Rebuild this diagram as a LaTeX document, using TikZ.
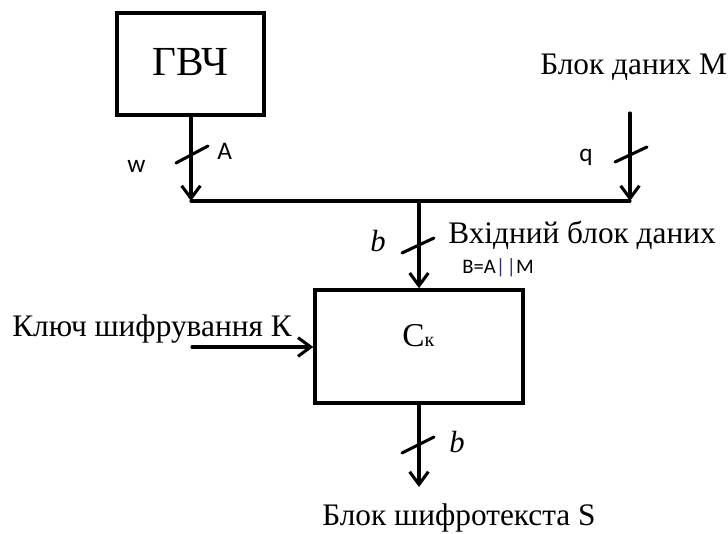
\documentclass[tikz,border=0pt]{standalone}
\usepackage{fontspec}
\setmainfont{Liberation Serif}
\newfontfamily\calib{Carlito}
\usetikzlibrary{arrows.meta}
\definecolor{barcol}{RGB}{60,40,120}
\tikzset{
  wire/.style={line width=2.3pt, line cap=round},
  arr/.style={wire, -{Straight Barb[length=9.5pt,width=14pt,line width=2.3pt]}},
  tick/.style={line width=2.3pt, line cap=round},
  blockbox/.style={draw, line width=2.6pt},
  serif/.style={font=\fontsize{23.5}{26}\selectfont, inner sep=0pt},
  sanslbl/.style={font=\calib\fontsize{19}{21}\selectfont, inner sep=0pt},
  mlbl/.style={font=\fontsize{23}{25}\selectfont\itshape, inner sep=0pt},
}
\begin{document}
\begin{tikzpicture}[x=0.75pt,y=-0.75pt]
\useasboundingbox (0,0) rectangle (728,534);
% blocks
\node[blockbox, minimum width=110.25pt, minimum height=76.5pt] (gvch) at (190.5,64) {};
\node[font=\fontsize{31}{34}\selectfont, inner sep=0pt, anchor=base] (gvchtxt) at (190.5,76) {ГВЧ};
\node[blockbox, minimum width=156pt, minimum height=84.75pt] (ck) at (419,346.5) {};
\node[font=\fontsize{25}{27}\selectfont, inner sep=0pt, anchor=base west] (cktxt) at (402,347) {C{\fontsize{15}{17}\selectfont к}};
% junction coordinates
\coordinate (jl) at (191,201);
\coordinate (jr) at (630,201);
\coordinate (jm) at (419,201);
\coordinate (mtop) at (630,113);
\coordinate (kstart) at (192,347);
\coordinate (out) at (419,487);
% connectors
\draw[arr] (gvch.south -| jl) -- (jl);
\draw[arr] (mtop) -- (jr);
\draw[wire] (jl) -- (jr);
\draw[arr] (jm) -- (jm |- ck.north);
\draw[arr] (kstart) -- (kstart -| ck.west);
\draw[arr] (ck.south -| out) -- (out);
% bus ticks
\draw[tick] (176,163) -- (208,146);
\draw[tick] (615,162) -- (647,147);
\draw[tick] (402,253) -- (434,238);
\draw[tick] (402,453) -- (434,437);
% labels
\node[sanslbl, anchor=base west] (lw) at (127,173) {w};
\node[sanslbl, anchor=base west] (la) at (217,160) {A};
\node[sanslbl, anchor=base west] (lq) at (579,162) {q};
\node[mlbl, anchor=base west] (lb1) at (370,252) {b};
\node[mlbl, anchor=base west] (lb2) at (449,452) {b};
\node[serif, anchor=base west] (tm) at (540,75) {Блок даних М};
\node[serif, anchor=base west] (tin) at (448,244) {Вхідний блок даних};
\node[font=\calib\fontsize{15.5}{17}\selectfont, inner sep=0pt, anchor=base west] (tba) at (462,274) {B=A\textcolor{barcol}{|\kern1pt|}M};
\node[serif, anchor=base west] (tkey) at (12,337) {Ключ шифрування К};
\node[serif, anchor=base west] (tout) at (322,525) {Блок шифротекста S};
\end{tikzpicture}
\end{document}
